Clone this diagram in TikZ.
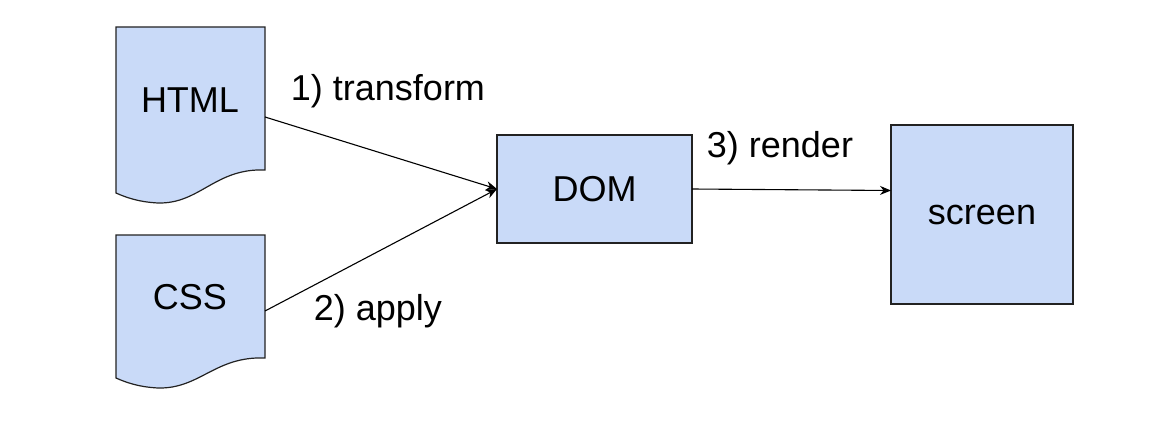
\documentclass[tikz,border=0pt]{standalone}
\usepackage{fontspec}
\setmainfont{Liberation Sans}
\usetikzlibrary{arrows.meta}
\definecolor{boxfill}{HTML}{C9DAF8}
\definecolor{edge}{HTML}{222222}
\tikzset{
  shapeline/.style={draw=edge, line width=1.2pt, fill=boxfill},
  boxnode/.style={shapeline, rectangle, inner sep=0pt},
  txt/.style={font=\fontsize{36}{42}\selectfont, inner sep=0pt},
  conn/.style={draw=black, line width=1.1pt, -{Stealth[length=11pt,width=9pt]}}
}
\begin{document}
\begin{tikzpicture}[x=1pt,y=-1pt]
\useasboundingbox (0,0) rectangle (1167,422);
% documents
\path[shapeline] (116,27) -- (265,27) -- (265,170)
  .. controls (215,168) and (200,204) .. (158,203)
  .. controls (138,202) and (125,197) .. (116,193) -- cycle;
\path[shapeline] (116,235) -- (265,235) -- (265,358)
  .. controls (215,356) and (200,389) .. (158,388)
  .. controls (138,387) and (125,382) .. (116,378) -- cycle;
\node[txt] (html) at (190,100) {HTML};
\node[txt] (css) at (190,297) {CSS};
\coordinate (htmlout) at (265,117);
\coordinate (cssout) at (265,311);
% boxes
\node[boxnode, minimum width=195pt, minimum height=108pt] (dom) at (594.5,189) {};
\node[txt] at (dom.center) {DOM};
\node[boxnode, minimum width=182pt, minimum height=179pt] (screen) at (982,214.5) {};
\node[txt] at (screen.center) {screen};
\coordinate (domin) at (497,189);
\coordinate (domout) at (692,189);
\coordinate (scrin) at (891,190.5);
% connectors
\draw[conn] (htmlout) -- (domin);
\draw[conn] (cssout) -- (domin);
\draw[conn] (domout) -- (scrin);
% labels
\node[txt] (l1) at (388,91) {1) transform};
\node[txt] (l2) at (378,311) {2) apply};
\node[txt] (l3) at (780,148) {3) render};
\end{tikzpicture}
\end{document}
